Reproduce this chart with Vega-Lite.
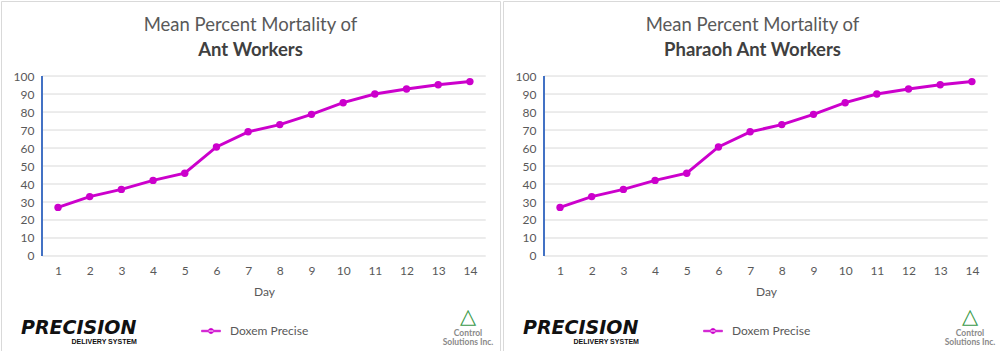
{
  "$schema": "https://vega.github.io/schema/vega-lite/v6.json",
  "padding": 0,
  "background": "white",
  "config": {
    "view": {"stroke": "#d9d9d9", "strokeWidth": 1},
    "font": "Lato",
    "axis": {"labelOverlap": false, "labelBound": false, "labelFlush": false},
    "legend": {"padding": 0},
    "title": {"font": "Lato", "fontSize": 18.5, "fontWeight": "normal", "color": "#595959", "subtitleFont": "Lato", "subtitleFontSize": 18.5, "subtitleFontWeight": "bold", "subtitleColor": "#404040", "subtitlePadding": 6, "anchor": "middle", "frame": "group", "offset": -58}
  },
  "datasets": {
    "mort": [
      {"day": 1, "mortality": 27, "product": "Doxem Precise"},
      {"day": 2, "mortality": 33, "product": "Doxem Precise"},
      {"day": 3, "mortality": 37, "product": "Doxem Precise"},
      {"day": 4, "mortality": 42, "product": "Doxem Precise"},
      {"day": 5, "mortality": 46, "product": "Doxem Precise"},
      {"day": 6, "mortality": 60.6, "product": "Doxem Precise"},
      {"day": 7, "mortality": 69, "product": "Doxem Precise"},
      {"day": 8, "mortality": 73, "product": "Doxem Precise"},
      {"day": 9, "mortality": 78.7, "product": "Doxem Precise"},
      {"day": 10, "mortality": 85.2, "product": "Doxem Precise"},
      {"day": 11, "mortality": 90, "product": "Doxem Precise"},
      {"day": 12, "mortality": 92.8, "product": "Doxem Precise"},
      {"day": 13, "mortality": 95.2, "product": "Doxem Precise"},
      {"day": 14, "mortality": 96.9, "product": "Doxem Precise"}
    ],
    "grid": [
      {"g": 0}, {"g": 10}, {"g": 20}, {"g": 30}, {"g": 40}, {"g": 50},
      {"g": 60}, {"g": 70}, {"g": 80}, {"g": 90}, {"g": 100}
    ]
  },
  "hconcat": [
    {
      "width": 499,
      "height": 350,
      "title": {"text": "Mean Percent Mortality of", "subtitle": "Ant Workers"},
      "layer": [
        {
          "data": {"name": "grid"},
          "mark": {"type": "rule", "color": "#d9d9d9", "strokeWidth": 1},
          "encoding": {
            "x": {"datum": 0.5, "type": "quantitative", "title": "Day", "scale": {"domain": [-0.8, 14.95], "nice": false, "zero": false},
              "axis": {"values": [1,2,3,4,5,6,7,8,9,10,11,12,13,14], "tickCount": 30, "format": "d", "offset": -95, "domain": false, "ticks": false, "tickSize": 0, "grid": false, "labelPadding": 9, "labelFontSize": 12, "labelColor": "#595959", "labelOverlap": false, "labelBound": false, "labelFlush": false, "title": "Day", "titleFontSize": 12, "titleFontWeight": "normal", "titleColor": "#595959", "titlePadding": 10, "titleX": 263}},
            "x2": {"datum": 14.5},
            "y": {"field": "g", "type": "quantitative", "title": null, "scale": {"domain": [-52.8, 141.7], "nice": false, "zero": false},
              "axis": {"values": [0,10,20,30,40,50,60,70,80,90,100], "tickCount": 30, "format": "d", "offset": -41, "domain": false, "ticks": false, "tickSize": 0, "grid": false, "labelPadding": 8, "labelFontSize": 12, "labelColor": "#595959", "labelOverlap": false, "labelBound": false, "labelFlush": false, "title": null}}
          }
        },
        {
          "data": {"name": "grid"},
          "mark": {"type": "rule", "color": "#4472C4", "strokeWidth": 1.5},
          "encoding": {
            "x": {"datum": 0.5, "type": "quantitative", "title": "Day"},
            "y": {"datum": 0, "type": "quantitative", "title": null},
            "y2": {"datum": 100}
          }
        },
        {
          "data": {"name": "mort"},
          "mark": {"type": "line", "strokeWidth": 3, "point": {"filled": true, "size": 55}},
          "encoding": {
            "x": {"field": "day", "type": "quantitative", "title": "Day"},
            "y": {"field": "mortality", "type": "quantitative", "title": null},
            "color": {"field": "product", "type": "nominal", "scale": {"domain": ["Doxem Precise"], "range": ["#CC00CC"]},
              "legend": {"title": null, "orient": "none", "legendX": 204, "legendY": 324, "symbolSize": 100, "symbolType": "M-1.9,-0.17L1.9,-0.17L1.9,0.17L-1.9,0.17Z M-0.53,0A0.53,0.53 0 1,0 0.53,0A0.53,0.53 0 1,0 -0.53,0Z", "labelOffset": 13, "labelFontSize": 12, "labelColor": "#595959",
                "encode": {"symbols": {"update": {"fill": {"value": "#CC00CC"}, "stroke": {"value": "#CC00CC"}, "strokeWidth": {"value": 0.5}}}}}}
          }
        },
        {
          "data": {"values": [{}]},
          "mark": {"type": "text", "text": "PRECISION", "font": "DejaVu Sans", "fontWeight": "bold", "fontStyle": "italic", "fontSize": 19, "align": "left", "baseline": "alphabetic", "color": "#111111"},
          "encoding": {"x": {"datum": -0.17, "type": "quantitative", "title": "Day"}, "y": {"datum": -43.3, "type": "quantitative", "title": null}}
        },
        {
          "data": {"values": [{}]},
          "mark": {"type": "text", "text": "DELIVERY SYSTEM", "font": "Liberation Sans", "fontWeight": "bold", "fontSize": 7, "align": "right", "baseline": "alphabetic", "color": "#111111"},
          "encoding": {"x": {"datum": 3.49, "type": "quantitative", "title": "Day"}, "y": {"datum": -49, "type": "quantitative", "title": null}}
        },
        {
          "data": {"values": [{}]},
          "mark": {"type": "text", "text": "△", "font": "DejaVu Sans", "fontWeight": "bold", "fontSize": 21, "align": "center", "baseline": "middle", "color": "#3a9a4a"},
          "encoding": {"x": {"datum": 13.94, "type": "quantitative", "title": "Day"}, "y": {"datum": -34, "type": "quantitative", "title": null}}
        },
        {
          "data": {"values": [{}]},
          "mark": {"type": "text", "text": "Control", "font": "Lato", "fontWeight": "bold", "fontSize": 8.5, "align": "center", "baseline": "alphabetic", "color": "#8a8a8a"},
          "encoding": {"x": {"datum": 13.94, "type": "quantitative", "title": "Day"}, "y": {"datum": -44.2, "type": "quantitative", "title": null}}
        },
        {
          "data": {"values": [{}]},
          "mark": {"type": "text", "text": "Solutions Inc.", "font": "Lato", "fontWeight": "bold", "fontSize": 8.5, "align": "center", "baseline": "alphabetic", "color": "#8a8a8a"},
          "encoding": {"x": {"datum": 13.94, "type": "quantitative", "title": "Day"}, "y": {"datum": -49.6, "type": "quantitative", "title": null}}
        }
      ]
    },
    {
      "width": 499,
      "height": 350,
      "title": {"text": "Mean Percent Mortality of", "subtitle": "Pharaoh Ant Workers"},
      "layer": [
        {
          "data": {"name": "grid"},
          "mark": {"type": "rule", "color": "#d9d9d9", "strokeWidth": 1},
          "encoding": {
            "x": {"datum": 0.5, "type": "quantitative", "title": "Day", "scale": {"domain": [-0.8, 14.95], "nice": false, "zero": false},
              "axis": {"values": [1,2,3,4,5,6,7,8,9,10,11,12,13,14], "tickCount": 30, "format": "d", "offset": -95, "domain": false, "ticks": false, "tickSize": 0, "grid": false, "labelPadding": 9, "labelFontSize": 12, "labelColor": "#595959", "labelOverlap": false, "labelBound": false, "labelFlush": false, "title": "Day", "titleFontSize": 12, "titleFontWeight": "normal", "titleColor": "#595959", "titlePadding": 10, "titleX": 263}},
            "x2": {"datum": 14.5},
            "y": {"field": "g", "type": "quantitative", "title": null, "scale": {"domain": [-52.8, 141.7], "nice": false, "zero": false},
              "axis": {"values": [0,10,20,30,40,50,60,70,80,90,100], "tickCount": 30, "format": "d", "offset": -41, "domain": false, "ticks": false, "tickSize": 0, "grid": false, "labelPadding": 8, "labelFontSize": 12, "labelColor": "#595959", "labelOverlap": false, "labelBound": false, "labelFlush": false, "title": null}}
          }
        },
        {
          "data": {"name": "grid"},
          "mark": {"type": "rule", "color": "#4472C4", "strokeWidth": 1.5},
          "encoding": {
            "x": {"datum": 0.5, "type": "quantitative", "title": "Day"},
            "y": {"datum": 0, "type": "quantitative", "title": null},
            "y2": {"datum": 100}
          }
        },
        {
          "data": {"name": "mort"},
          "mark": {"type": "line", "strokeWidth": 3, "point": {"filled": true, "size": 55}},
          "encoding": {
            "x": {"field": "day", "type": "quantitative", "title": "Day"},
            "y": {"field": "mortality", "type": "quantitative", "title": null},
            "color": {"field": "product", "type": "nominal", "scale": {"domain": ["Doxem Precise"], "range": ["#CC00CC"]},
              "legend": {"title": null, "orient": "none", "legendX": 204, "legendY": 324, "symbolSize": 100, "symbolType": "M-1.9,-0.17L1.9,-0.17L1.9,0.17L-1.9,0.17Z M-0.53,0A0.53,0.53 0 1,0 0.53,0A0.53,0.53 0 1,0 -0.53,0Z", "labelOffset": 13, "labelFontSize": 12, "labelColor": "#595959",
                "encode": {"symbols": {"update": {"fill": {"value": "#CC00CC"}, "stroke": {"value": "#CC00CC"}, "strokeWidth": {"value": 0.5}}}}}}
          }
        },
        {
          "data": {"values": [{}]},
          "mark": {"type": "text", "text": "PRECISION", "font": "DejaVu Sans", "fontWeight": "bold", "fontStyle": "italic", "fontSize": 19, "align": "left", "baseline": "alphabetic", "color": "#111111"},
          "encoding": {"x": {"datum": -0.17, "type": "quantitative", "title": "Day"}, "y": {"datum": -43.3, "type": "quantitative", "title": null}}
        },
        {
          "data": {"values": [{}]},
          "mark": {"type": "text", "text": "DELIVERY SYSTEM", "font": "Liberation Sans", "fontWeight": "bold", "fontSize": 7, "align": "right", "baseline": "alphabetic", "color": "#111111"},
          "encoding": {"x": {"datum": 3.49, "type": "quantitative", "title": "Day"}, "y": {"datum": -49, "type": "quantitative", "title": null}}
        },
        {
          "data": {"values": [{}]},
          "mark": {"type": "text", "text": "△", "font": "DejaVu Sans", "fontWeight": "bold", "fontSize": 21, "align": "center", "baseline": "middle", "color": "#3a9a4a"},
          "encoding": {"x": {"datum": 13.94, "type": "quantitative", "title": "Day"}, "y": {"datum": -34, "type": "quantitative", "title": null}}
        },
        {
          "data": {"values": [{}]},
          "mark": {"type": "text", "text": "Control", "font": "Lato", "fontWeight": "bold", "fontSize": 8.5, "align": "center", "baseline": "alphabetic", "color": "#8a8a8a"},
          "encoding": {"x": {"datum": 13.94, "type": "quantitative", "title": "Day"}, "y": {"datum": -44.2, "type": "quantitative", "title": null}}
        },
        {
          "data": {"values": [{}]},
          "mark": {"type": "text", "text": "Solutions Inc.", "font": "Lato", "fontWeight": "bold", "fontSize": 8.5, "align": "center", "baseline": "alphabetic", "color": "#8a8a8a"},
          "encoding": {"x": {"datum": 13.94, "type": "quantitative", "title": "Day"}, "y": {"datum": -49.6, "type": "quantitative", "title": null}}
        }
      ]
    }
  ],
  "spacing": 1,
  "resolve": {"scale": {"color": "independent", "x": "independent", "y": "independent"}, "legend": {"color": "independent"}}
}
